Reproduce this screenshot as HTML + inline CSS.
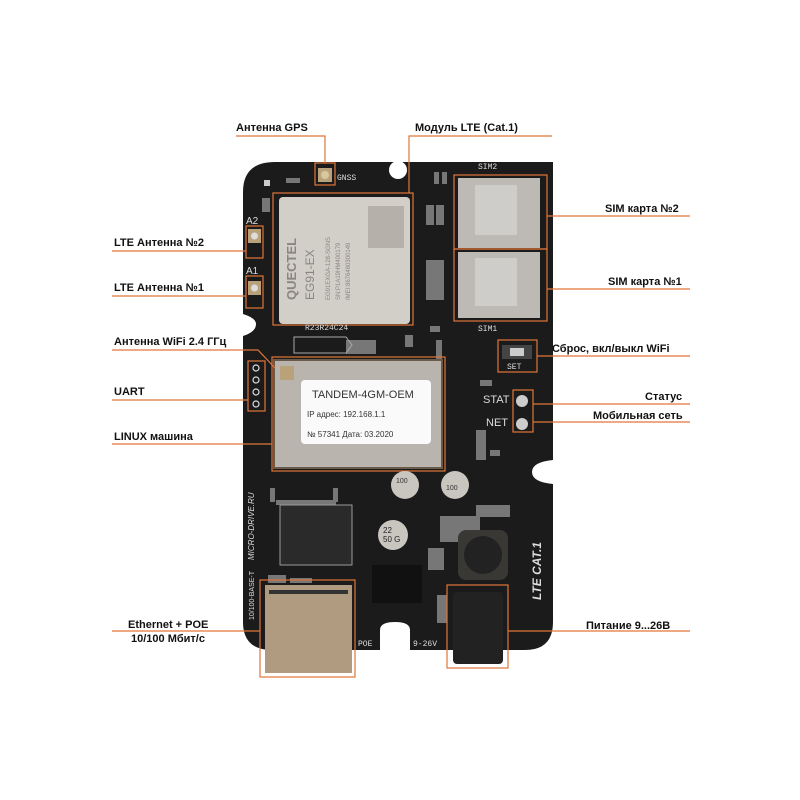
<!DOCTYPE html>
<html><head><meta charset="utf-8"><style>
html,body{margin:0;padding:0;background:#fff;}
svg{display:block;}
text{font-family:"Liberation Sans",sans-serif;}
.l{font-weight:bold;font-size:11px;fill:#111;}
.o{stroke:#e0763a;stroke-width:1.2;fill:none;}
.s{font-family:"Liberation Mono",monospace;fill:#ddd;font-size:8px;}
</style></head><body>
<svg width="800" height="800" viewBox="0 0 800 800" xmlns="http://www.w3.org/2000/svg">
<!-- board -->
<path d="M275,162 L553,162 Q553,162 553,192 L553,460 Q532,462 532,472 Q532,482 553,484 L553,622 Q553,650 525,650 L410,650 L410,630 Q410,622 395,622 Q380,622 380,630 L380,650 L272,650 Q243,650 243,622 L243,336 Q256,332 256,324 Q256,318 243,314 L243,192 Q243,162 275,162 Z" fill="#1b1b1b"/>
<circle cx="398" cy="170" r="9" fill="#fff"/>
<rect x="264" y="180" width="6" height="6" fill="#ccc"/>
<!-- GNSS -->
<rect x="318" y="168" width="14" height="14" fill="#b9a27a"/>
<circle cx="325" cy="175" r="4" fill="#d8c8a0"/>
<text x="337" y="180" class="s" font-size="10" fill="#ddd">GNSS</text>
<!-- LTE module -->
<rect x="279" y="197" width="131" height="127" rx="4" fill="#d2cec8"/>
<rect x="368" y="206" width="36" height="42" fill="#b5b0aa"/>
<text x="0" y="0" transform="translate(296,300) rotate(-90)" font-size="13" font-weight="bold" fill="#8a8580">QUECTEL</text>
<text x="0" y="0" transform="translate(314,300) rotate(-90)" font-size="12" fill="#8a8580">EG91-EX</text>
<text x="0" y="0" transform="translate(330,300) rotate(-90)" font-size="6" fill="#8a8580">EG91EXGA-128-SGNS</text>
<text x="0" y="0" transform="translate(340,300) rotate(-90)" font-size="6" fill="#8a8580">SN:P1A19HM400179</text>
<text x="0" y="0" transform="translate(350,300) rotate(-90)" font-size="6" fill="#8a8580">IMEI:8676480300149</text>
<rect x="273" y="193" width="140" height="132" class="o"/>
<!-- antennas A1 A2 -->
<text x="246" y="224" fill="#ddd" font-size="10">A2</text>
<text x="246" y="274" fill="#ddd" font-size="10">A1</text>
<rect x="248" y="229" width="13" height="14" fill="#b9a27a"/><circle cx="254.5" cy="236" r="3.5" fill="#ddd"/>
<rect x="248" y="281" width="13" height="14" fill="#b9a27a"/><circle cx="254.5" cy="288" r="3.5" fill="#ddd"/>
<rect x="246" y="226" width="17" height="32" class="o"/>
<rect x="246" y="276" width="17" height="32" class="o"/>
<!-- SIM holders -->
<rect x="458" y="178" width="82" height="70" fill="#bdbab5"/>
<rect x="475" y="185" width="42" height="50" fill="#cfcdc9"/>
<rect x="458" y="252" width="82" height="66" fill="#bdbab5"/>
<rect x="475" y="258" width="42" height="48" fill="#cfcdc9"/>
<text x="478" y="169" class="s" font-size="10">SIM2</text>
<text x="478" y="331" class="s" font-size="10">SIM1</text>
<rect x="454" y="175" width="93" height="74" class="o"/>
<rect x="454" y="249" width="93" height="72" class="o"/>
<!-- small parts -->
<g fill="#777">
<rect x="434" y="172" width="5" height="12"/><rect x="442" y="172" width="5" height="12"/>
<rect x="426" y="205" width="8" height="20"/><rect x="436" y="205" width="8" height="20"/>
<rect x="426" y="260" width="18" height="40"/><rect x="405" y="335" width="8" height="12"/>
<rect x="262" y="198" width="8" height="14"/><rect x="286" y="178" width="14" height="5"/>
<rect x="430" y="326" width="10" height="6"/><rect x="436" y="340" width="6" height="22"/>
<rect x="346" y="340" width="30" height="14"/><rect x="480" y="380" width="12" height="6"/>
<rect x="476" y="430" width="10" height="30"/><rect x="490" y="450" width="10" height="6"/>
<rect x="270" y="488" width="5" height="14"/><rect x="333" y="488" width="5" height="14"/>
<rect x="276" y="500" width="60" height="5"/><rect x="268" y="575" width="18" height="8"/>
<rect x="290" y="578" width="22" height="5"/><rect x="440" y="516" width="40" height="26"/>
<rect x="476" y="505" width="34" height="12"/><rect x="428" y="548" width="16" height="22"/>
<rect x="437" y="595" width="10" height="28"/>
</g>
<path d="M294,337 L346,337 L352,345 L346,353 L294,353 Z" fill="none" stroke="#aaa"/>
<text x="293" y="366" class="s">X2</text>
<text x="305" y="330" class="s" font-size="7">R23R24C24</text>
<!-- WiFi SET button -->
<rect x="502" y="345" width="30" height="14" fill="#444"/><rect x="510" y="348" width="14" height="8" fill="#ccc"/>
<text x="507" y="369" class="s" font-size="9">SET</text>
<rect x="498" y="340" width="39" height="32" class="o"/>
<!-- UART -->
<g fill="none" stroke="#ddd" stroke-width="1.2">
<circle cx="256" cy="368" r="3"/><circle cx="256" cy="380" r="3"/><circle cx="256" cy="392" r="3"/><circle cx="256" cy="404" r="3"/></g>
<rect x="248" y="361" width="17" height="50" class="o"/>
<!-- Linux module -->
<rect x="274" y="360" width="168" height="108" fill="#b9b4ad" stroke="#6a5a4a" stroke-width="2"/>
<rect x="280" y="366" width="14" height="14" fill="#b9a27a"/>
<rect x="301" y="380" width="130" height="64" rx="4" fill="#fafafa"/>
<text x="312" y="398" font-size="11" fill="#333">TANDEM-4GM-OEM</text>
<text x="307" y="417" font-size="8" font-family="Liberation Mono,monospace" fill="#333">IP адрес: 192.168.1.1</text>
<text x="307" y="437" font-size="8" font-family="Liberation Mono,monospace" fill="#333">№ 57341  Дата: 03.2020</text>
<rect x="272" y="357" width="173" height="114" class="o"/>
<!-- STAT/NET -->
<text x="483" y="403" fill="#ddd" font-size="11">STAT</text>
<text x="486" y="426" fill="#ddd" font-size="11">NET</text>
<circle cx="522" cy="401" r="6" fill="#ccc"/><circle cx="522" cy="424" r="6" fill="#ccc"/>
<rect x="513" y="390" width="20" height="42" class="o"/>
<!-- caps -->
<circle cx="405" cy="485" r="14" fill="#c9c6c0"/><text x="396" y="483" font-size="7" fill="#333">100</text>
<circle cx="455" cy="485" r="14" fill="#c9c6c0"/><text x="446" y="490" font-size="7" fill="#333">100</text>
<circle cx="393" cy="535" r="15" fill="#c9c6c0"/><text x="383" y="533" font-size="8" fill="#222">22</text><text x="383" y="542" font-size="8" fill="#222">50 G</text>
<!-- inductor -->
<rect x="458" y="530" width="50" height="50" rx="8" fill="#3a3835"/><circle cx="483" cy="555" r="19" fill="#222"/>
<!-- transformer -->
<rect x="280" y="505" width="72" height="60" fill="#2a2a2a" stroke="#999"/>
<text x="0" y="0" transform="translate(254,560) rotate(-90)" fill="#ddd" font-size="8" font-style="italic">MICRO-DRIVE.RU</text>
<text x="0" y="0" transform="translate(254,620) rotate(-90)" fill="#ddd" font-size="7">10/100-BASE-T</text>
<text x="0" y="0" transform="translate(541,600) rotate(-90)" fill="#ddd" font-size="12" font-weight="bold" font-style="italic">LTE CAT.1</text>
<rect x="372" y="565" width="50" height="38" fill="#111"/>
<!-- ethernet -->
<rect x="265" y="585" width="87" height="88" fill="#b09a80"/>
<rect x="269" y="590" width="79" height="4" fill="#333"/>
<rect x="260" y="580" width="95" height="97" class="o"/>
<text x="358" y="646" class="s">POE</text>
<text x="413" y="646" class="s">9-26V</text>
<!-- power jack -->
<rect x="453" y="592" width="50" height="72" rx="4" fill="#222"/>
<rect x="447" y="585" width="61" height="83" class="o"/>
<!-- labels -->
<text x="236" y="131" class="l">Антенна GPS</text>
<polyline points="236,136 325,136 325,163" class="o"/>
<rect x="315" y="163" width="20" height="22" class="o"/>
<text x="415" y="131" class="l">Модуль LTE (Cat.1)</text>
<polyline points="552,136 409,136 409,193" class="o"/>
<text x="114" y="246" class="l">LTE Антенна №2</text>
<polyline points="112,251 246,251" class="o"/>
<text x="114" y="291" class="l">LTE Антенна №1</text>
<polyline points="112,296 246,296" class="o"/>
<text x="114" y="345" class="l">Антенна WiFi 2.4 ГГц</text>
<polyline points="112,350 258,350 275,368" class="o"/>
<text x="114" y="395" class="l">UART</text>
<polyline points="112,400 248,400" class="o"/>
<text x="114" y="440" class="l">LINUX машина</text>
<polyline points="112,444 272,444" class="o"/>
<text x="128" y="628" class="l">Ethernet + POE</text>
<text x="131" y="642" class="l">10/100 Мбит/с</text>
<polyline points="112,631 260,631" class="o"/>
<text x="605" y="212" class="l">SIM карта №2</text>
<polyline points="547,216 690,216" class="o"/>
<text x="608" y="285" class="l">SIM карта №1</text>
<polyline points="547,289 690,289" class="o"/>
<text x="552" y="352" class="l">Сброс, вкл/выкл WiFi</text>
<polyline points="537,356 690,356" class="o"/>
<text x="645" y="400" class="l">Статус</text>
<polyline points="533,404 690,404" class="o"/>
<text x="593" y="419" class="l">Мобильная сеть</text>
<polyline points="533,422 690,422" class="o"/>
<text x="586" y="629" class="l">Питание 9...26В</text>
<polyline points="508,631 690,631" class="o"/>
</svg>
</body></html>
